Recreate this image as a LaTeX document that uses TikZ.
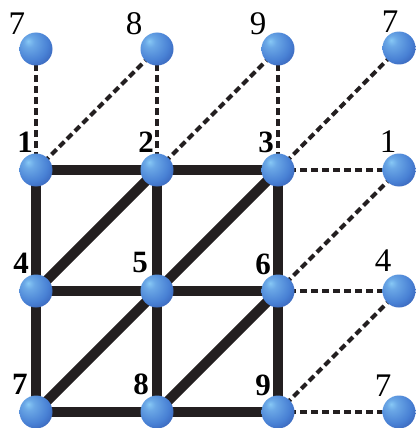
\documentclass[tikz,border=0pt]{standalone}
\usepackage{fontspec}
\setmainfont{Liberation Serif}
\definecolor{hl}{RGB}{135,200,245}
\definecolor{midb}{RGB}{72,128,212}
\definecolor{edgeb}{RGB}{40,68,155}
\definecolor{ink}{RGB}{35,31,32}
\pgfdeclareradialshading{myball}{\pgfpoint{-12bp}{12bp}}{color(0bp)=(hl); color(8bp)=(hl!55!midb); color(26bp)=(midb); color(48bp)=(edgeb); color(75bp)=(edgeb)}
\tikzset{
  ball/.style={circle, minimum size=33pt, inner sep=0pt, shading=myball},
  beam/.style={line width=10pt, draw=ink},
  link/.style={line width=4pt, draw=ink, dash pattern=on 7pt off 4pt},
  glab/.style={inner sep=0pt, font=\fontsize{33}{33}\selectfont},
  blab/.style={inner sep=0pt, font=\fontsize{31}{31}\selectfont\bfseries},
}
\begin{document}
\begin{tikzpicture}[x=1pt,y=-1pt]
\useasboundingbox (0,0) rectangle (415,428);
% coordinates
\coordinate (c1) at (36,170);
\coordinate (c2) at (157,170);
\coordinate (c3) at (278,170);
\coordinate (c4) at (36,291);
\coordinate (c5) at (157,291);
\coordinate (c6) at (278,291);
\coordinate (c7) at (36,412);
\coordinate (c8) at (157,412);
\coordinate (c9) at (278,412);
\coordinate (gt7) at (36,49);
\coordinate (gt8) at (157,49);
\coordinate (gt9) at (278,49);
\coordinate (gtr) at (399,48);
\coordinate (gr1) at (399,170);
\coordinate (gr4) at (399,291);
\coordinate (gr7) at (399,412);
% dashed periodic links
\draw[link] (c1) -- (gt7);
\draw[link] (c1) -- (gt8);
\draw[link] (c2) -- (gt8);
\draw[link] (c2) -- (gt9);
\draw[link] (c3) -- (gt9);
\draw[link] (c3) -- (gtr);
\draw[link] (c3) -- (gr1);
\draw[link] (c6) -- (gr1);
\draw[link] (c6) -- (gr4);
\draw[link] (c9) -- (gr4);
\draw[link] (c9) -- (gr7);
% beams
\draw[beam] (c1) -- (c2) -- (c3);
\draw[beam] (c4) -- (c5) -- (c6);
\draw[beam] (c7) -- (c8) -- (c9);
\draw[beam] (c1) -- (c4) -- (c7);
\draw[beam] (c2) -- (c5) -- (c8);
\draw[beam] (c3) -- (c6) -- (c9);
\draw[beam] (c4) -- (c2);
\draw[beam] (c5) -- (c3);
\draw[beam] (c7) -- (c5);
\draw[beam] (c8) -- (c6);
% balls
\foreach \n in {c1,c2,c3,c4,c5,c6,c7,c8,c9,gt7,gt8,gt9,gtr,gr1,gr4,gr7}
  \node[ball] (b\n) at (\n) {};
% labels
\node[glab] (l1) at (17,24) {7};
\node[glab] (l2) at (134,24) {8};
\node[glab] (l3) at (258,24) {9};
\node[glab] (l4) at (390,22) {7};
\node[glab] (l5) at (388,142) {1};
\node[glab] (l6) at (383,261) {4};
\node[glab] (l7) at (383,386) {7};
\node[blab] (n1) at (25,142) {1};
\node[blab] (n2) at (146,142) {2};
\node[blab] (n3) at (266,142) {3};
\node[blab] (n4) at (21,263) {4};
\node[blab] (n5) at (140,262) {5};
\node[blab] (n6) at (263,264) {6};
\node[blab] (n7) at (20,384) {7};
\node[blab] (n8) at (141,384) {8};
\node[blab] (n9) at (263,385) {9};
\end{tikzpicture}
\end{document}
